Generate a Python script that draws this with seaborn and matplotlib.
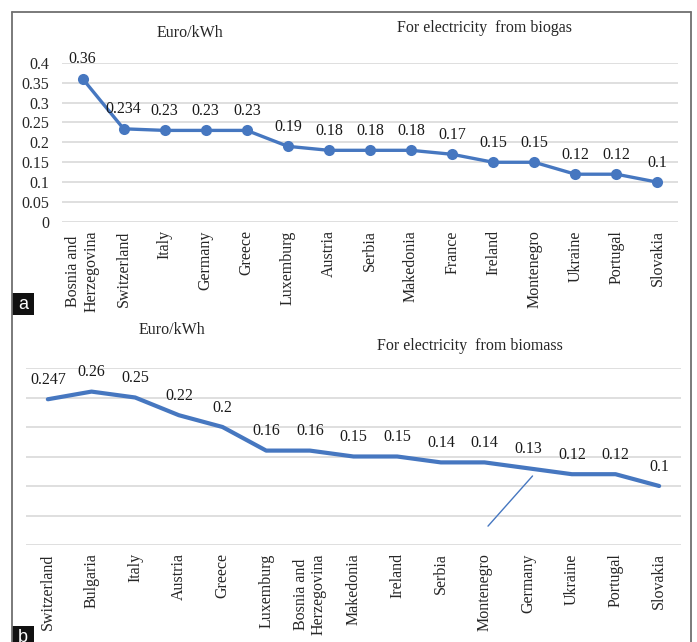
import matplotlib
matplotlib.use("Agg")
import matplotlib.pyplot as plt
import seaborn as sns
import numpy as np
import pandas as pd
from matplotlib.patches import Rectangle
from matplotlib.lines import Line2D

# ---- data ----
biogas_countries = ["Bosnia and\nHerzegovina", "Switzerland", "Italy", "Germany", "Greece",
                    "Luxemburg", "Austria", "Serbia", "Makedonia", "France", "Ireland",
                    "Montenegro", "Ukraine", "Portugal", "Slovakia"]
biogas_values = [0.36, 0.234, 0.23, 0.23, 0.23, 0.19, 0.18, 0.18, 0.18, 0.17, 0.15,
                 0.15, 0.12, 0.12, 0.1]
biogas_labels = ["0.36", "0.234", "0.23", "0.23", "0.23", "0.19", "0.18", "0.18", "0.18",
                 "0.17", "0.15", "0.15", "0.12", "0.12", "0.1"]

biomass_countries = ["Switzerland", "Bulgaria", "Italy", "Austria", "Greece", "Luxemburg",
                     "Bosnia and\nHerzegovina", "Makedonia", "Ireland", "Serbia",
                     "Montenegro", "Germany", "Ukraine", "Portugal", "Slovakia"]
biomass_values = [0.247, 0.26, 0.25, 0.22, 0.2, 0.16, 0.16, 0.15, 0.15, 0.14, 0.14,
                  0.13, 0.12, 0.12, 0.1]
biomass_labels = ["0.247", "0.26", "0.25", "0.22", "0.2", "0.16", "0.16", "0.15", "0.15",
                  "0.14", "0.14", "0.13", "0.12", "0.12", "0.1"]

biogas_yticks = [0, 0.05, 0.1, 0.15, 0.2, 0.25, 0.3, 0.35, 0.4]
biogas_yticklabels = ["0", "0.05", "0.1", "0.15", "0.2", "0.25", "0.3", "0.35", "0.4"]
biomass_yticks = [0, 0.05, 0.1, 0.15, 0.2, 0.25, 0.3]

sns.set_theme(style="white")
plt.rcParams["font.family"] = ["Liberation Serif", "DejaVu Serif"]

BLUE = "#4677c0"
GRID = "#d9d9d9"
FS = 11.5

fig = plt.figure(figsize=(6.97, 6.42), dpi=100)

W, H = 697.0, 642.0
def box(l, t, r, b):
    return [l / W, 1 - b / H, (r - l) / W, (b - t) / H]

ax1 = fig.add_axes(box(62, 62.7, 678, 222))
ax2 = fig.add_axes(box(26, 368, 681, 545))

df1 = pd.DataFrame({"pos": np.arange(len(biogas_countries)), "value": biogas_values})
df2 = pd.DataFrame({"pos": np.arange(len(biomass_countries)), "value": biomass_values})

sns.lineplot(data=df1, x="pos", y="value", ax=ax1, color=BLUE, linewidth=2.4,
             marker="o", markersize=8, markeredgewidth=0, zorder=3)
sns.lineplot(data=df2, x="pos", y="value", ax=ax2, color=BLUE, linewidth=3.0, zorder=3)

for ax, df, labels, countries, yt in [(ax1, df1, biogas_labels, biogas_countries, biogas_yticks),
                                      (ax2, df2, biomass_labels, biomass_countries, biomass_yticks)]:
    ax.set_xlim(-0.5, len(countries) - 0.5)
    ax.set_ylim(yt[0], yt[-1])
    ax.set_yticks(yt)
    ax.yaxis.grid(True, color=GRID, linewidth=1.2)
    ax.set_axisbelow(True)
    for s in ax.spines.values():
        s.set_visible(False)
    ax.set_xticks(df["pos"])
    ax.set_xticklabels(countries, rotation=90, fontsize=FS, va="top", ha="center",
                       linespacing=1.2)
    ax.tick_params(axis="x", length=0, pad=6)
    ax.tick_params(axis="y", length=0)
    ax.set_xlabel("")
    ax.set_ylabel("")
    for x, y, lab in zip(df["pos"], df["value"], labels):
        ax.annotate(lab, (x, y), xytext=(0, 14), textcoords="offset points",
                    ha="center", va="center", fontsize=FS, color="#1a1a1a", zorder=4)

ax1.set_yticklabels(biogas_yticklabels, fontsize=FS)
ax1.tick_params(axis="y", pad=9)
ax2.set_yticklabels([])

# stray leader line visible in panel b
ax2.plot([10.08, 11.1], [0.032, 0.117], color=BLUE, linewidth=1.0, zorder=3)

# titles
fig.text(190 / W, 1 - 33 / H, "Euro/kWh", ha="center", va="center", fontsize=FS)
fig.text(484 / W, 1 - 28 / H, "For electricity  from biogas", ha="center", va="center", fontsize=FS)
fig.text(172 / W, 1 - 330 / H, "Euro/kWh", ha="center", va="center", fontsize=FS)
fig.text(470 / W, 1 - 346 / H, "For electricity  from biomass", ha="center", va="center", fontsize=FS)

# outer frame (left, top, right)
fc = "#707070"
fig.add_artist(Line2D([11.7 / W, 11.7 / W], [0, 1 - 12 / H], color=fc, linewidth=1.3,
                      transform=fig.transFigure))
fig.add_artist(Line2D([11.7 / W, 690.5 / W], [1 - 12 / H, 1 - 12 / H], color=fc, linewidth=1.3,
                      transform=fig.transFigure))
fig.add_artist(Line2D([690.5 / W, 690.5 / W], [0, 1 - 12 / H], color=fc, linewidth=1.3,
                      transform=fig.transFigure))

# panel letters
for letter, top in [("a", 293), ("b", 626)]:
    fig.add_artist(Rectangle((11.7 / W, 1 - (top + 22) / H), 22.5 / W, 22 / H,
                             transform=fig.transFigure, facecolor="#111111", edgecolor="none"))
    fig.text(23 / W, 1 - (top + 11) / H, letter, ha="center", va="center", color="white",
             fontsize=13, family=["Liberation Sans", "DejaVu Sans"])

fig.savefig("out.png", dpi=100, facecolor="white")
